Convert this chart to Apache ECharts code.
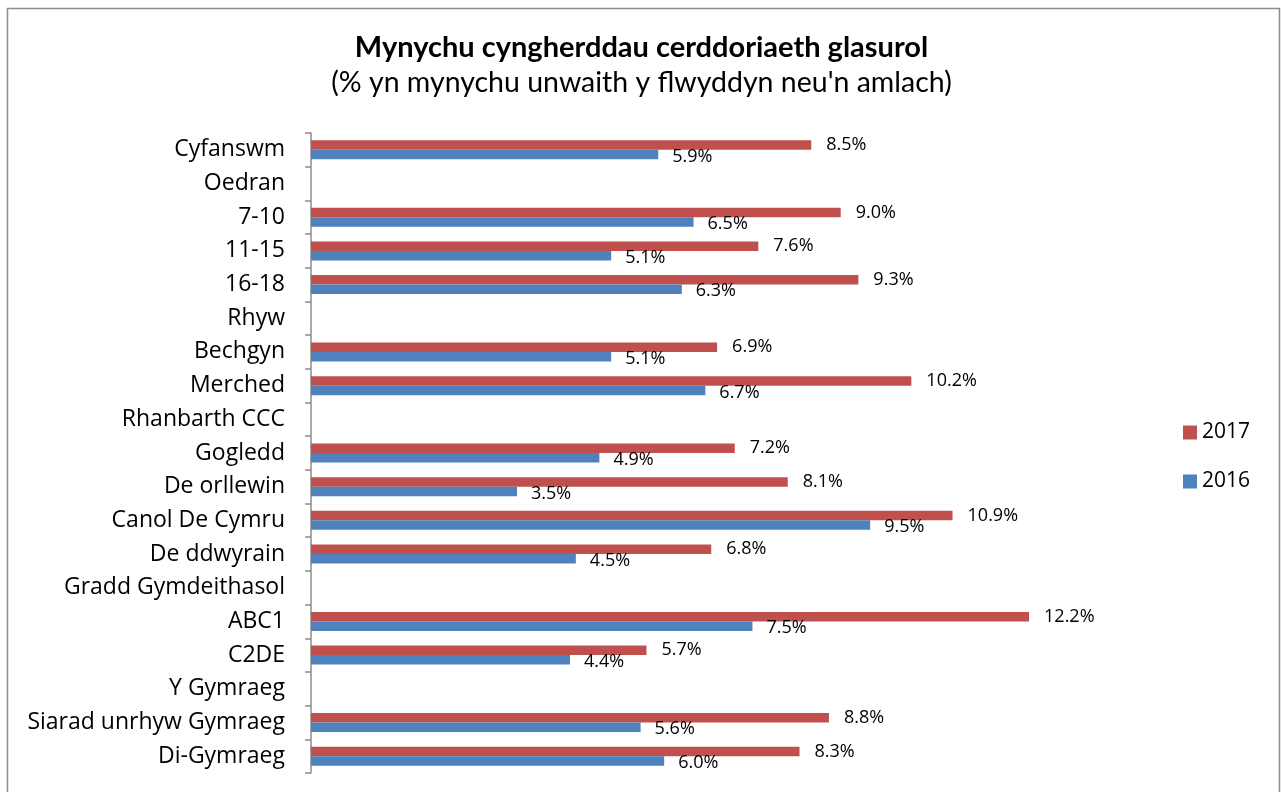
<!DOCTYPE html>
<html>
<head>
<meta charset="utf-8">
<script src="https://cdn.jsdelivr.net/npm/echarts@6/dist/echarts.min.js"></script>
<style>
  html, body { margin: 0; padding: 0; background: #fff; }
  #chart { width: 1283px; height: 792px; }
</style>
</head>
<body>
<div id="chart"></div>
<script>
var categories = ['Cyfanswm', 'Oedran', '7-10', '11-15', '16-18', 'Rhyw', 'Bechgyn', 'Merched',
    'Rhanbarth CCC', 'Gogledd', 'De orllewin', 'Canol De Cymru', 'De ddwyrain',
    'Gradd Gymdeithasol', 'ABC1', 'C2DE', 'Y Gymraeg', 'Siarad unrhyw Gymraeg', 'Di-Gymraeg'];
var values2017 = [8.5, '-', 9.0, 7.6, 9.3, '-', 6.9, 10.2, '-', 7.2, 8.1, 10.9, 6.8, '-', 12.2, 5.7, '-', 8.8, 8.3];
var values2016 = [5.9, '-', 6.5, 5.1, 6.3, '-', 5.1, 6.7, '-', 4.9, 3.5, 9.5, 4.5, '-', 7.5, 4.4, '-', 5.6, 6.0];
var seriesNames = ['2017', '2016'];

var myChart = echarts.init(document.getElementById('chart'));

function pct(p) {
    return Number(p.value).toFixed(1) + '%';
}

var option = {
    animation: false,
    color: ['#C0504D', '#4F81BD'],
    title: {
        text: 'Mynychu cyngherddau cerddoriaeth glasurol',
        subtext: "(% yn mynychu unwaith y flwyddyn neu'n amlach)",
        left: 'center',
        top: 28,
        itemGap: 6,
        textStyle: {
            fontFamily: 'Lato',
            fontSize: 29,
            fontWeight: 'bold',
            color: '#000'
        },
        subtextStyle: {
            fontFamily: 'Lato',
            fontSize: 28.5,
            color: '#000'
        }
    },
    graphic: [{
        type: 'rect',
        shape: { x: 7.5, y: 8.5, width: 1272, height: 800 },
        style: { fill: 'none', stroke: '#8c8c8c', lineWidth: 1.5 },
        silent: true
    }],
    legend: {
        data: seriesNames,
        orient: 'vertical',
        left: 1178,
        top: 417,
        itemWidth: 14,
        itemHeight: 14,
        itemGap: 28,
        icon: 'rect',
        textStyle: {
            fontFamily: 'Open Sans',
            fontSize: 21,
            color: '#000'
        }
    },
    grid: {
        left: 311,
        top: 133,
        width: 824,
        height: 640,
        containLabel: false
    },
    xAxis: {
        type: 'value',
        min: 0,
        max: 14,
        show: false
    },
    yAxis: {
        type: 'category',
        data: categories,
        inverse: true,
        axisLine: {
            show: true,
            lineStyle: { color: '#8c8c8c', width: 1.5 }
        },
        axisTick: {
            show: true,
            length: 6,
            lineStyle: { color: '#8c8c8c', width: 1.5 }
        },
        axisLabel: {
            fontFamily: 'Open Sans',
            fontSize: 23,
            color: '#000',
            margin: 26
        }
    },
    series: [{
        name: seriesNames[0],
        type: 'bar',
        data: values2017,
        barWidth: 9.5,
        barGap: '0%',
        label: {
            show: true,
            position: 'right',
            distance: 15,
            formatter: pct,
            fontFamily: 'Open Sans',
            fontSize: 18,
            color: '#000'
        }
    }, {
        name: seriesNames[1],
        type: 'bar',
        data: values2016,
        barWidth: 9.5,
        barGap: '0%',
        label: {
            show: true,
            position: 'right',
            distance: 14,
            offset: [0, 2],
            formatter: pct,
            fontFamily: 'Open Sans',
            fontSize: 18,
            color: '#000'
        }
    }]
};

myChart.setOption(option);
</script>
</body>
</html>
